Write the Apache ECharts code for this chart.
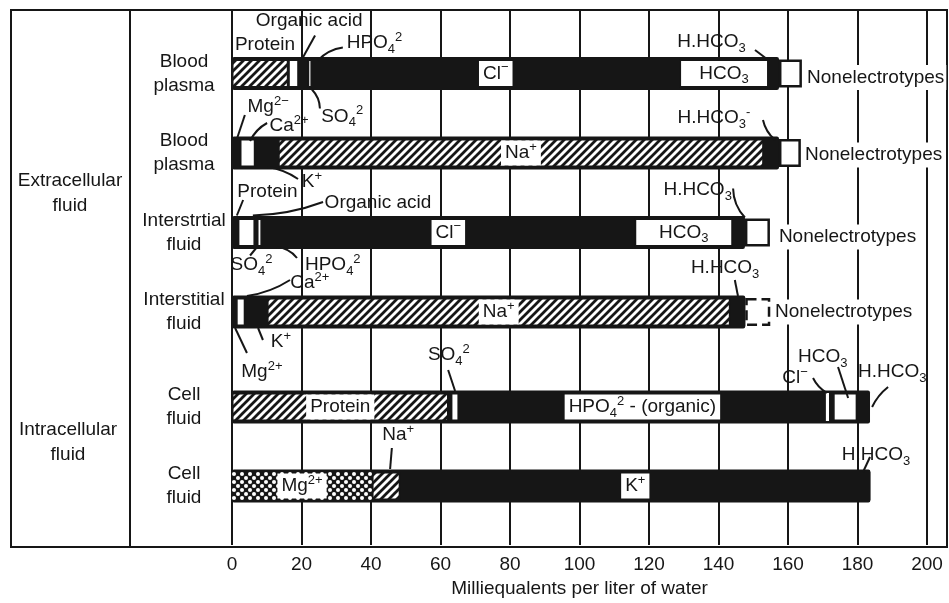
<!DOCTYPE html>
<html><head><meta charset="utf-8">
<script src="https://cdn.jsdelivr.net/npm/echarts@6/dist/echarts.min.js"></script>
<style>html,body{margin:0;padding:0;background:#fff}#c{width:949px;height:603px}</style>
</head><body><div id="c"></div>
<script>
// ---------------- data ----------------
const xMin = 0, xMax = 200, xStep = 20;
const axisTitle = 'Milliequalents per liter of water';
const extraRows = ['Blood\nplasma', 'Blood\nplasma', 'Interstrtial\nfluid', 'Interstitial\nfluid'];
const intraRows = ['Cell\nfluid', 'Cell\nfluid'];
const groupLabels = ['Extracellular\nfluid', 'Intracellular\nfluid'];

// Blood plasma – anions
const plasmaAnionVals  = [16.2, 3.0, 2.6, 1.2, 105.8, 25.6, 3.0, 6.6];
const plasmaAnionKinds = ['hatch', 'white', 'black', 'white', 'black', 'white', 'black', 'box'];
const plasmaAnionText  = ['', '', '', '', 'Cl{sp|−}', 'HCO{sb|3}', '', ''];
// Blood plasma – cations
const plasmaCationVals  = [2.3, 4.4, 6.6, 139.7, 4.4, 6.3];
const plasmaCationKinds = ['black', 'white', 'black', 'hatch', 'black', 'box'];
const plasmaCationText  = ['', '', '', 'Na{sp|+}', '', ''];
// Interstitial fluid – anions
const intAnionVals  = [1.7, 4.9, 0.6, 1.4, 107.3, 28.2, 3.5, 7.2];
const intAnionKinds = ['black', 'white', 'black', 'white', 'black', 'white', 'black', 'box'];
const intAnionText  = ['', '', '', '', 'Cl{sp|−}', 'HCO{sb|3}', '', ''];
// Interstitial fluid – cations
const intCationVals  = [1.2, 2.6, 6.3, 133.3, 4.3, 7.2];
const intCationKinds = ['black', 'white', 'black', 'hatch', 'black', 'boxDash'];
const intCationText  = ['', '', '', 'Na{sp|+}', '', ''];
// Cell fluid – anions
const cellAnionVals  = [62.3, 0.7, 2.3, 105.6, 0.9, 1.2, 6.9, 3.7];
const cellAnionKinds = ['hatch', 'black', 'white', 'black', 'stripe', 'black', 'white', 'black'];
const cellAnionText  = ['Protein', '', '', 'HPO{sb|4}{sp|2} - (organic)', '', '', '', ''];
// Cell fluid – cations
const cellCationVals  = [40.3, 8.1, 135.3];
const cellCationKinds = ['dots', 'hatch', 'black'];
const cellCationText  = ['Mg{sp|2+}', '', 'K{sp|+}'];

// ---------------- styling ----------------
const FONT = '"Liberation Sans", Arial, Helvetica, sans-serif';
const INK = '#161616';
const FS = 19;

function makePattern(kind) {
  const c = document.createElement('canvas'); c.width = 8; c.height = 8;
  const g = c.getContext('2d');
  if (kind === 'hatch') {
    g.fillStyle = '#fff'; g.fillRect(0, 0, 8, 8);
    g.strokeStyle = INK; g.lineWidth = 2.8; g.beginPath();
    g.moveTo(-2, 10); g.lineTo(10, -2);
    g.moveTo(-2, 2); g.lineTo(2, -2);
    g.moveTo(6, 10); g.lineTo(10, 6);
    g.stroke();
  } else {
    g.fillStyle = INK; g.fillRect(0, 0, 8, 8);
    g.fillStyle = '#fff';
    g.beginPath(); g.arc(2, 2, 2.0, 0, Math.PI * 2); g.fill();
    g.beginPath(); g.arc(6, 6, 2.0, 0, Math.PI * 2); g.fill();
  }
  return c;
}
const hatchImg = makePattern('hatch');
const dotImg = makePattern('dots');

const STYLE = {
  black:   { color: INK, borderWidth: 0 },
  white:   { color: '#fff', borderColor: INK, borderWidth: 1.5 },
  stripe:  { color: '#fff', borderWidth: 0 },
  hatch:   { color: { image: hatchImg, repeat: 'repeat' }, borderColor: INK, borderWidth: 1.5 },
  dots:    { color: { image: dotImg, repeat: 'repeat' }, borderWidth: 0 },
  box:     { color: '#fff', borderColor: INK, borderWidth: 2.5 },
  boxDash: { color: '#fff', borderColor: INK, borderWidth: 2.5, borderType: 'dashed' }
};

const RICH = {
  sb: { fontSize: 13, lineHeight: 13, verticalAlign: 'bottom', color: INK, fill: INK, fontFamily: FONT },
  sp: { fontSize: 13, lineHeight: 13, verticalAlign: 'top', color: INK, fill: INK, fontFamily: FONT }
};

function labelFor(t) {
  return { show: true, position: 'inside', formatter: function () { return t; },
    color: INK, fontSize: FS, fontFamily: FONT, lineHeight: 25,
    backgroundColor: '#fff', padding: [0, 4, 0, 4], rich: RICH };
}

const rowsA = [
  { vals: plasmaAnionVals, kinds: plasmaAnionKinds, text: plasmaAnionText },
  { vals: plasmaCationVals, kinds: plasmaCationKinds, text: plasmaCationText },
  { vals: intAnionVals, kinds: intAnionKinds, text: intAnionText },
  { vals: intCationVals, kinds: intCationKinds, text: intCationText }
];
const rowsB = [
  { vals: cellAnionVals, kinds: cellAnionKinds, text: cellAnionText },
  { vals: cellCationVals, kinds: cellCationKinds, text: cellCationText }
];

function bgSeries(rows, xi, yi) {
  return { type: 'bar', xAxisIndex: xi, yAxisIndex: yi, barWidth: 33, silent: true,
    itemStyle: { color: INK, borderRadius: 2 },
    data: rows.map(r => r.vals.reduce((s, v, i) => r.kinds[i].indexOf('box') === 0 ? s : s + v, 0)) };
}
function segSeries(rows, xi, yi, stack) {
  const n = Math.max.apply(null, rows.map(r => r.vals.length));
  const out = [];
  for (let k = 0; k < n; k++) {
    out.push({ type: 'bar', xAxisIndex: xi, yAxisIndex: yi, stack: stack, barWidth: 28, silent: true,
      data: rows.map(r => k < r.vals.length ? {
        value: r.vals[k], itemStyle: STYLE[r.kinds[k]],
        label: r.text[k] ? labelFor(r.text[k]) : { show: false }
      } : '-') });
  }
  return out;
}

const hiddenX = (g) => ({ type: 'value', gridIndex: g, min: xMin, max: xMax, interval: xStep, show: false });
const catAxis = (g, data, show) => ({
  type: 'category', gridIndex: g, data: data, inverse: true, show: show,
  axisLine: { show: false }, axisTick: { show: false },
  axisLabel: { show: show, align: 'center', margin: 48, fontSize: FS, lineHeight: 24, color: INK, fontFamily: FONT }
});

const chart = echarts.init(document.getElementById('c'), null, { renderer: 'canvas' });
chart.setOption({
  animation: false,
  backgroundColor: '#fff',
  textStyle: { fontFamily: FONT },
  grid: [
    { left: 232, right: 22, top: 10, bottom: 56 },
    { left: 232, right: 22, top: 33.75, height: 318 },
    { left: 232, right: 22, top: 367.5, height: 158 }
  ],
  xAxis: [
    { type: 'value', gridIndex: 0, min: xMin, max: xMax, interval: xStep,
      axisLine: { show: false }, axisTick: { show: false },
      splitLine: { show: true, lineStyle: { color: INK, width: 2 } },
      axisLabel: { fontSize: FS, color: INK, margin: 10, fontFamily: FONT },
      name: axisTitle, nameLocation: 'middle', nameGap: 32,
      nameTextStyle: { fontSize: FS, color: INK, fontFamily: FONT } },
    hiddenX(1), hiddenX(2)
  ],
  yAxis: [
    { type: 'value', gridIndex: 0, show: false },
    catAxis(1, extraRows, true), catAxis(1, extraRows, false),
    catAxis(2, intraRows, true), catAxis(2, intraRows, false)
  ],
  series: [].concat(
    [bgSeries(rowsA, 1, 2)], segSeries(rowsA, 1, 1, 'A'),
    [bgSeries(rowsB, 2, 4)], segSeries(rowsB, 2, 3, 'B')
  )
});

// ---------------- annotations (layout) ----------------
const ROWREF = [[1, 1, 0], [1, 1, 1], [1, 1, 2], [1, 1, 3], [2, 3, 0], [2, 3, 1]];
function toPx(row, xv, dy) {
  const r = ROWREF[row];
  const p = chart.convertToPixel({ xAxisIndex: r[0], yAxisIndex: r[1] }, [xv, r[2]]);
  return [p[0], p[1] + dy];
}
// [row, x (axis units), dy (px), text, align, whiteBg]
const NOTES = [
  [0, 22.2, -52.5, 'Organic acid'], [0, 9.5, -28.5, 'Protein'], [0, 41, -30.5, 'HPO{sb|4}{sp|2}'],
  [0, 31.7, 43, 'SO{sb|4}{sp|2}'], [0, 138, -31.5, 'H.HCO{sb|3}'], [0, 164.9, 4, 'Nonelectrotypes', 'left', 1],
  [1, 10.4, -46, 'Mg{sp|2−}'], [1, 16.4, -27, 'Ca{sp|2+}'], [1, 23, 29, 'K{sp|+}'],
  [1, 138.7, -35, 'H.HCO{sb|3}{sp|-}'], [1, 164.3, 2, 'Nonelectrotypes', 'left', 1],
  [2, 10.2, -40.5, 'Protein'], [2, 42, -29.5, 'Organic acid'], [2, 5.6, 32.5, 'SO{sb|4}{sp|2}'],
  [2, 29, 32.5, 'HPO{sb|4}{sp|2}'], [2, 134, -42.5, 'H.HCO{sb|3}'], [2, 156.8, 4.5, 'Nonelectrotypes', 'left', 1],
  [3, 22.4, -29, 'Ca{sp|2+}'], [3, 14.1, 30, 'K{sp|+}'], [3, 8.6, 60, 'Mg{sp|2+}'],
  [3, 141.9, -44, 'H.HCO{sb|3}'], [3, 155.7, 0, 'Nonelectrotypes', 'left', 1],
  [4, 62.4, -52, 'SO{sb|4}{sp|2}'], [4, 162, -29, 'Cl{sp|−}'], [4, 170, -50, 'HCO{sb|3}'],
  [4, 190, -35, 'H.HCO{sb|3}'],
  [5, 47.8, -51, 'Na{sp|+}'], [5, 185.3, -31, 'H.HCO{sb|3}']
];
// [row, x1, dy1, x2, dy2, bend]
const LEADERS = [
  [0, 23.9, -38, 20.4, -16, 0], [0, 31.9, -26, 24.7, -13, 5], [0, 23.0, 16, 25.3, 35, -4], [0, 150.5, -23.5, 154.5, -13, 0],
  [1, 3.7, -38, 1.4, -14, 0], [1, 10.1, -30, 5.2, -12, 4], [1, 10.1, 14, 19.0, 26, -4], [1, 152.8, -33, 156.3, -13, 4],
  [2, 3.2, -32.5, 1.4, -17, 0], [2, 26.2, -30.5, 6.0, -17, -6], [2, 7.2, 14.5, 5.2, 23, 0], [2, 12.9, 14.5, 18.7, 25.5, -5], [2, 144.2, -44, 147.6, -15, 6],
  [3, 16.7, -32, 4.3, -16, -5], [3, 7.5, 16, 8.9, 28, 0], [3, 0.9, 16, 4.3, 41, 0], [3, 144.7, -32, 145.6, -16, 0],
  [4, 62.2, -37, 64.2, -16, 0], [4, 167.2, -29, 171.2, -14, 3], [4, 174.4, -40, 177.3, -9, 0], [4, 188.8, -20, 184.2, 0, 3],
  [5, 46.0, -38, 45.5, -17, 0], [5, 183.6, -29, 181.6, -14, 0]
];

const G = [];
// frame
G.push({ type: 'rect', z: 5, shape: { x: 11, y: 10, width: 936, height: 537 }, style: { fill: 'none', stroke: INK, lineWidth: 2 } });
G.push({ type: 'line', z: 5, shape: { x1: 130, y1: 10, x2: 130, y2: 547 }, style: { stroke: INK, lineWidth: 2 } });
// group labels
G.push({ type: 'text', z: 20, x: 70, y: 193, style: { text: groupLabels[0], fill: INK, fontSize: FS, fontFamily: FONT, lineHeight: 25, align: 'center', verticalAlign: 'middle' } });
G.push({ type: 'text', z: 20, x: 68, y: 442, style: { text: groupLabels[1], fill: INK, fontSize: FS, fontFamily: FONT, lineHeight: 25, align: 'center', verticalAlign: 'middle' } });

NOTES.forEach(n => {
  const p = toPx(n[0], n[1], n[2]);
  const st = { text: n[3], fill: INK, fontSize: FS, fontFamily: FONT, lineHeight: 25,
    align: n[4] || 'center', verticalAlign: 'middle', rich: RICH };
  if (n[5]) { st.backgroundColor = '#fff'; st.padding = [0, 2, 0, 2]; }
  G.push({ type: 'text', z: 20, x: p[0], y: p[1], style: st });
});
LEADERS.forEach(l => {
  const a = toPx(l[0], l[1], l[2]), b = toPx(l[0], l[3], l[4]);
  const dx = b[0] - a[0], dy = b[1] - a[1], len = Math.sqrt(dx * dx + dy * dy) || 1;
  const cx = (a[0] + b[0]) / 2 - dy / len * l[5], cy = (a[1] + b[1]) / 2 + dx / len * l[5];
  G.push({ type: 'bezierCurve', z: 19, shape: { x1: a[0], y1: a[1], x2: b[0], y2: b[1], cpx1: cx, cpy1: cy },
    style: { stroke: INK, lineWidth: 2, fill: 'none' } });
});
chart.setOption({ graphic: G });
</script>
</body></html>
